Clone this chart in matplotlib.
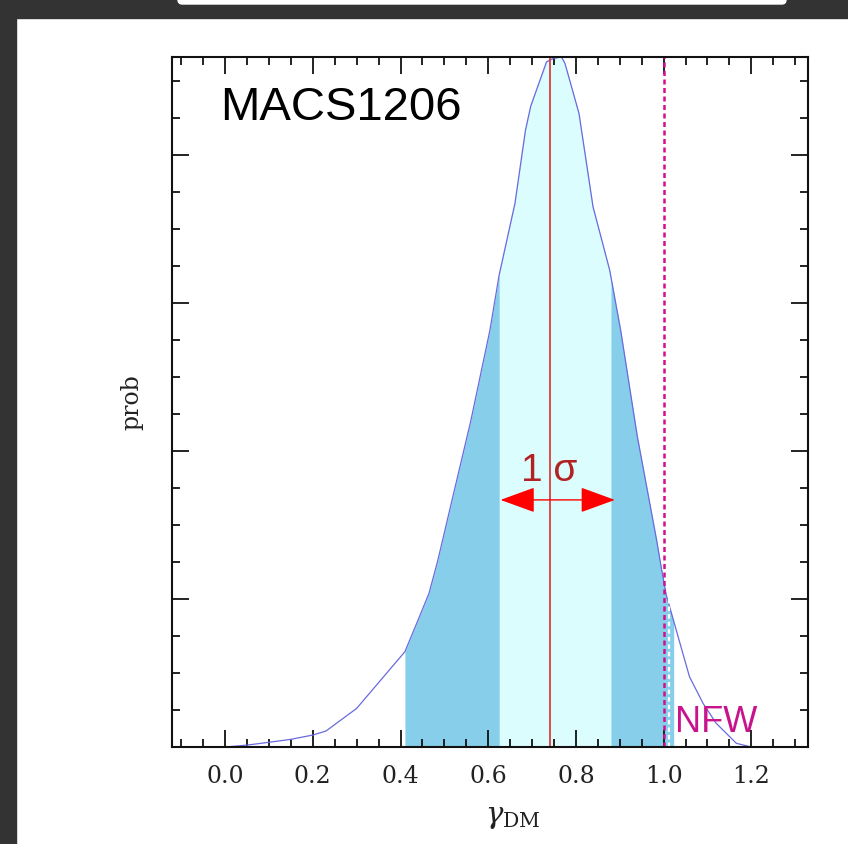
import matplotlib
matplotlib.use("Agg")
import matplotlib.pyplot as plt
from matplotlib.patches import Rectangle, FancyBboxPatch
import numpy as np

plt.rcParams['mathtext.fontset'] = 'dejavuserif'

# posterior of the inner dark-matter slope
gamma = [0.00, 0.05, 0.10, 0.15, 0.20, 0.23, 0.30, 0.41, 0.44, 0.465, 0.485,
         0.52, 0.56, 0.604, 0.625, 0.661, 0.685, 0.697, 0.733, 0.748, 0.767,
         0.775, 0.807, 0.839, 0.877, 0.902, 0.94, 0.984, 0.995, 1.006, 1.018,
         1.059, 1.09, 1.12, 1.166, 1.20]
prob = [0.0, 0.013, 0.032, 0.052, 0.081, 0.108, 0.261, 0.644, 0.858, 1.039,
        1.26, 1.7, 2.2, 2.818, 3.19, 3.674, 4.169, 4.331, 4.630, 4.653, 4.664,
        4.62, 4.282, 3.651, 3.223, 2.818, 2.1, 1.399, 1.207, 1.027, 0.903,
        0.475, 0.295, 0.16, 0.025, 0.0]

best = 0.74
sig1 = (0.625, 0.88)     # 1 sigma interval
sig2 = (0.41, 1.023)     # 2 sigma interval
arrow_ends = (0.628, 0.889)
arrow_y = 1.67
nfw = 1.0

gamma = np.array(gamma)
prob = np.array(prob)

fig = plt.figure(figsize=(8.48, 8.44), dpi=100)
ax = fig.add_axes([0.2034, 0.1149, 0.7498, 0.8181])

def band(lo, hi, color):
    xs = np.linspace(lo, hi, 200)
    ax.fill_between(xs, 0, np.interp(xs, gamma, prob), color=color, lw=0)

band(*sig2, '#87ceea')
band(*sig1, '#dcfdfd')
ax.plot(gamma, prob, color='#6a6ae0', lw=0.9)

ax.axvline(best, color='#e03c3c', lw=1.3)
ax.axvline(nfw, color='#d0108c', lw=1.8, ls=(0, (2, 1.4)))
ax.axvline(1.012, color='white', lw=1.6, ls=(0, (2, 1.4)))

ax.annotate('', xy=(arrow_ends[0], arrow_y), xytext=(arrow_ends[1], arrow_y),
            arrowprops=dict(arrowstyle='<|-|>,head_length=1.1,head_width=0.4',
                            mutation_scale=20, color='#ff0000', lw=1,
                            shrinkA=0, shrinkB=0))
ax.text(best, 1.80, '1 σ', color='#b22222', fontsize=28,
        family='Liberation Sans', ha='center', va='baseline')

ax.text(-0.011, 4.24, 'MACS1206', fontsize=34, family='Liberation Sans',
        ha='left', va='baseline')
ax.text(1.026, 0.1, 'NFW', color='#c8148c', fontsize=26,
        family='Liberation Sans', ha='left', va='baseline')

ax.set_xlim(-0.12, 1.33)
ax.set_ylim(0, 4.666)
ax.set_xticks([0.0, 0.2, 0.4, 0.6, 0.8, 1.0, 1.2])
ax.set_xticks(np.arange(-0.1, 1.31, 0.05), minor=True)
ax.set_yticks([1, 2, 3, 4])
ax.set_yticks(np.arange(0.25, 4.6, 0.25), minor=True)
ax.set_yticklabels([])
ax.set_xticklabels(['0.0', '0.2', '0.4', '0.6', '0.8', '1.0', '1.2'],
                   family='DejaVu Serif', fontsize=17, color='#222222')
ax.tick_params(which='both', direction='in', top=True, right=True,
               width=1.3, color='#111111')
ax.tick_params(which='major', length=12, pad=13)
ax.tick_params(which='minor', length=6)
for s in ax.spines.values():
    s.set_linewidth(1.5)
    s.set_color('#111111')

ax.set_xlabel(r'$\gamma_{\rm DM}$', fontsize=21, color='#222222')
ax.xaxis.set_label_coords(0.5356, -0.081)
ax.set_ylabel('prob', family='DejaVu Serif', fontsize=17, color='#222222')
ax.yaxis.set_label_coords(-0.0464, 0.5)

# dark window frame around the figure
fig.patches.append(Rectangle((0, 0), 16 / 848, 1, transform=fig.transFigure,
                             color='#333333', zorder=5))
fig.patches.append(Rectangle((0, 1 - 18 / 844), 1, 18 / 844,
                             transform=fig.transFigure, color='#333333', zorder=5))
fig.patches.append(FancyBboxPatch((178 / 848, 1 - 4 / 844), 608 / 848, 10 / 844,
                                  boxstyle='round,pad=0,rounding_size=0.005',
                                  transform=fig.transFigure, color='white',
                                  zorder=6))

fig.savefig('out.png', dpi=100)
